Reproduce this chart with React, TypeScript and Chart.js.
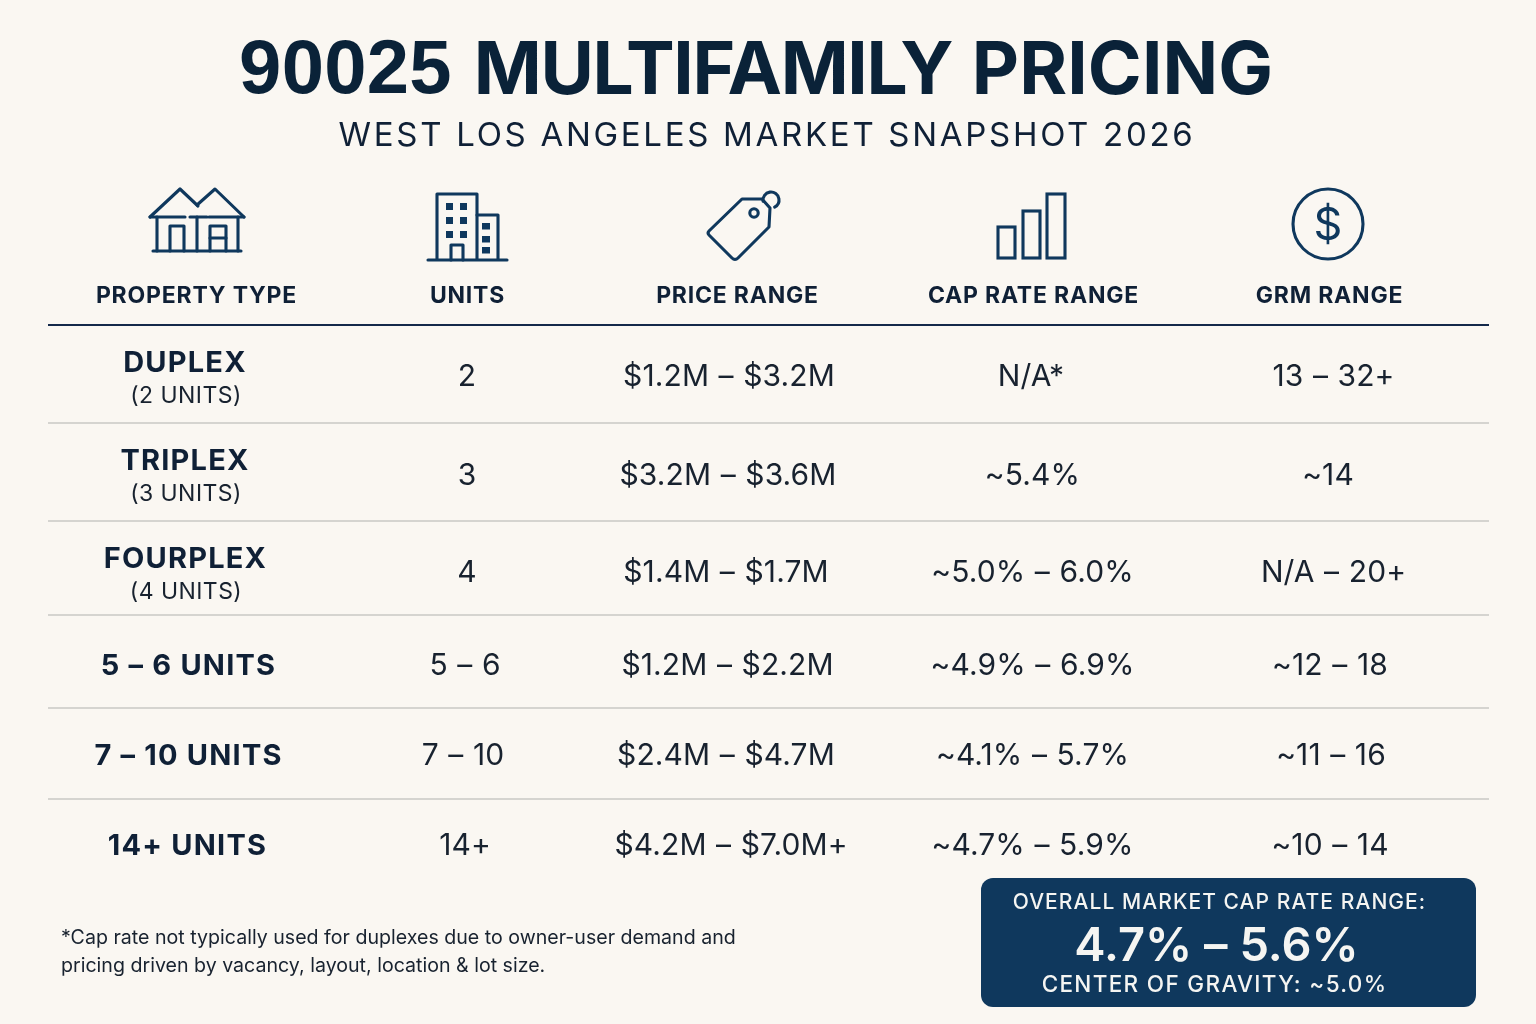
import React, { useEffect, useRef } from 'react'
import { Chart, registerables } from 'chart.js'

Chart.register(...registerables)

const titleWords = ['90025', 'MULTIFAMILY', 'PRICING']
const subtitle = 'WEST LOS ANGELES MARKET SNAPSHOT 2026'
const headers = ['PROPERTY TYPE', 'UNITS', 'PRICE RANGE', 'CAP RATE RANGE', 'GRM RANGE']
const categories = ['DUPLEX', 'TRIPLEX', 'FOURPLEX', '5 – 6 UNITS', '7 – 10 UNITS', '14+ UNITS']
const categoryNotes = ['(2 UNITS)', '(3 UNITS)', '(4 UNITS)']
const units = ['2', '3', '4', '5 – 6', '7 – 10', '14+']
const priceRanges = ['$1.2M – $3.2M', '$3.2M – $3.6M', '$1.4M – $1.7M', '$1.2M – $2.2M', '$2.4M – $4.7M', '$4.2M – $7.0M+']
const capRateRanges = ['N/A*', '~5.4%', '~5.0% – 6.0%', '~4.9% – 6.9%', '~4.1% – 5.7%', '~4.7% – 5.9%']
const grmRanges = ['13 – 32+', '~14', 'N/A – 20+', '~12 – 18', '~11 – 16', '~10 – 14']
const footnotes = [
    '*Cap rate not typically used for duplexes due to owner-user demand and',
    'pricing driven by vacancy, layout, location & lot size.',
]
const calloutTop = 'OVERALL MARKET CAP RATE RANGE:'
const calloutRange = '4.7% – 5.6%'
const calloutBottom = 'CENTER OF GRAVITY: ~5.0%'

// layout, in page pixels (the scales run 0-1536 / 0-1024)
const rowY = [375, 474, 571, 664, 754, 844]
const nameY = [361, 459, 557, 664, 754, 844]
const noteY = [394, 492, 590]
const nameX = [185, 185, 185.5, 188.5, 188.5, 187.5]
const noteX = [186, 186, 186]
const unitX = [467, 467, 467, 465, 463, 465]
const priceX = [729, 728, 726, 727.5, 726, 731]
const capX = [1031, 1032.5, 1032.5, 1032.5, 1032.5, 1032.5]
const grmX = [1333.5, 1328, 1333.5, 1330, 1331, 1330]
const headerX = [196.5, 467.5, 737.5, 1033.5, 1329.5]
const iconX = [197, 467, 743, 1031, 1328]
const ruleY = [423, 521, 615, 708, 799]

const NAVY = '#0f385d'
const INK = '#0f2036'
const BODY = '#18222f'
const PALE = '#f5f5f2'
const FONT = 'Inter, "Noto Sans", sans-serif'
const DIGIT_FONT = '"Liberation Sans", sans-serif'

const textSet = (labels: string[], xs: number[], ys: number[], weight: number, size: number, spacing: number, color: string, align = 'center', wordGap = 0, family = FONT) => ({
    data: labels.map((_, i) => ({ x: xs[i], y: ys[i] })),
    labels,
    textStyle: { weight, size, spacing, color, align, wordGap, family },
    pointRadius: 0,
    showLine: false,
})

const ruleSet = (y: number, color: string, width: number) => ({
    data: [{ x: 48, y }, { x: 1489, y }],
    showLine: true,
    borderColor: color,
    borderWidth: width,
    pointRadius: 0,
})

const drawIcon = (ctx: CanvasRenderingContext2D, index: number) => {
    const path = (pts: number[][]) => {
        ctx.beginPath()
        pts.forEach(([px, py], i) => (i ? ctx.lineTo(px, py) : ctx.moveTo(px, py)))
        ctx.stroke()
    }
    ctx.strokeStyle = NAVY
    ctx.fillStyle = NAVY
    ctx.lineWidth = 3.1
    ctx.lineJoin = 'round'
    ctx.lineCap = 'round'
    if (index === 0) {
        path([[-47, -8], [-17, -36], [1, -19]])
        path([[0, -20], [18, -36], [47, -8]])
        path([[-47, -8], [-12, -8]])
        path([[-7, -8], [10, -8]])
        path([[12, -8], [47, -8]])
        path([[-40, -8], [-40, 26]])
        path([[0, -8], [0, 26]])
        path([[41, -8], [41, 26]])
        path([[-44, 26], [44, 26]])
        path([[-27, 26], [-27, 1], [-13, 1], [-13, 26]])
        path([[13, 26], [13, 1], [29, 1], [29, 26]])
        path([[13, 13], [29, 13]])
    } else if (index === 1) {
        path([[-30, 34], [-30, -31], [10, -31], [10, 34]])
        path([[10, -10], [31, -10], [31, 34]])
        path([[-39, 35], [40, 35]])
        path([[-16, 35], [-16, 20], [-4, 20], [-4, 35]])
        ;[-22, -8].forEach(wx => [-22, -8, 6].forEach(wy => ctx.fillRect(wx + 1, wy, 7, 7)))
        ;[-2, 11, 22].forEach(wy => ctx.fillRect(15, wy, 8, 6.5))
    } else if (index === 2) {
        ctx.beginPath()
        ctx.moveTo(-1, -26)
        ctx.lineTo(19, -26)
        ctx.lineTo(27, -17)
        ctx.lineTo(26, 2)
        ctx.lineTo(-5, 33)
        ctx.quadraticCurveTo(-8, 36, -11, 33)
        ctx.lineTo(-34, 10)
        ctx.quadraticCurveTo(-36, 8, -34, 6)
        ctx.closePath()
        ctx.stroke()
        ctx.beginPath()
        ctx.arc(11, -12, 4.2, 0, Math.PI * 2)
        ctx.stroke()
        ctx.beginPath()
        ctx.arc(28, -25, 8, Math.PI * 0.95, Math.PI * 2.35)
        ctx.stroke()
    } else if (index === 3) {
        ctx.lineJoin = 'miter'
        ctx.strokeRect(-33, 2, 17, 31)
        ctx.strokeRect(-8, -14, 17, 47)
        ctx.strokeRect(16, -31, 18, 64)
    } else {
        ctx.beginPath()
        ctx.arc(0, -1, 35, 0, Math.PI * 2)
        ctx.stroke()
        ctx.font = `400 45px ${FONT}`
        ctx.textAlign = 'center'
        ctx.textBaseline = 'middle'
        ctx.fillText('$', 0, 1)
    }
}

const tablePlugin = {
    id: 'tableText',
    beforeDraw(chart: any) {
        const { ctx, width, height, scales } = chart
        ctx.save()
        ctx.fillStyle = '#faf7f2'
        ctx.fillRect(0, 0, width, height)
        // callout panel behind the market summary
        const left = scales.x.getPixelForValue(981)
        const right = scales.x.getPixelForValue(1476)
        const top = scales.y.getPixelForValue(878)
        const bottom = scales.y.getPixelForValue(1007)
        ctx.fillStyle = NAVY
        ctx.beginPath()
        ctx.roundRect(left, top, right - left, bottom - top, 12)
        ctx.fill()
        ctx.restore()
    },
    afterDatasetsDraw(chart: any) {
        const { ctx } = chart
        chart.data.datasets.forEach((set: any, d: number) => {
            const points = chart.getDatasetMeta(d).data
            if (set.icons) {
                points.forEach((pt: any, i: number) => {
                    ctx.save()
                    ctx.translate(pt.x, pt.y)
                    drawIcon(ctx, i)
                    ctx.restore()
                })
            }
            if (!set.textStyle) return
            const { weight, size, spacing, color, align, wordGap, family } = set.textStyle
            points.forEach((pt: any, i: number) => {
                ctx.save()
                ctx.font = `${weight} ${size}px ${family}`
                ctx.letterSpacing = `${spacing}px`
                ctx.wordSpacing = `${wordGap}px`
                ctx.fillStyle = color
                ctx.textAlign = align
                ctx.textBaseline = 'middle'
                // middle sits a little above the capitals' centre in Inter
                ctx.fillText(set.labels[i], pt.x, pt.y + size * 0.075)
                ctx.restore()
            })
        })
    },
}

export default function App() {
    const canvasReference = useRef<HTMLCanvasElement>(null)

    useEffect(() => {
        const myChart = new Chart(canvasReference.current as HTMLCanvasElement, {
            type: 'scatter',
            data: {
                datasets: [
                    ruleSet(325, '#14294a', 2.2),
                    ...ruleY.map(y => ruleSet(y, '#c9c9c5', 1.5)),
                    { data: iconX.map(x => ({ x, y: 225 })), icons: true, pointRadius: 0 },
                    // the words are tracked differently in the picture, so each gets its own spacing
                    textSet([titleWords[0]], [345.5], [66], 700, 76, 0.3, '#0a2238', 'center', 0, DIGIT_FONT),
                    textSet([titleWords[1]], [713], [67], 700, 73, -1.3, '#0a2238'),
                    textSet([titleWords[2]], [1122.5], [67], 700, 73, 0.1, '#0a2238'),
                    textSet([subtitle], [767], [134], 400, 33, 2.7, INK),
                    textSet(headers, headerX, headers.map(() => 294), 700, 23, 0.8, INK),
                    textSet(categories, nameX, nameY, 700, 29, 1.2, INK),
                    textSet(categoryNotes, noteX, noteY, 400, 23, 0.45, BODY),
                    textSet(units, unitX, rowY, 400, 30, 0.1, BODY, 'center', 1),
                    textSet(priceRanges, priceX, rowY, 400, 30, 0.1, BODY, 'center', 1),
                    textSet(capRateRanges, capX, rowY, 400, 30, 0.1, BODY, 'center', 1),
                    textSet(grmRanges, grmX, rowY, 400, 30, 0.1, BODY, 'center', 1),
                    textSet(footnotes, [61, 61], [937, 965], 400, 19.6, 0, BODY, 'left'),
                    textSet([calloutTop], [1219.5], [901], 500, 21, 1.07, PALE),
                    textSet([calloutRange], [1216.5], [943], 600, 47, 0, PALE),
                    textSet([calloutBottom], [1214.5], [984], 500, 22.5, 1.33, PALE),
                ] as any,
            },
            options: {
                responsive: false,
                animation: false,
                events: [],
                layout: { padding: 0 },
                plugins: { legend: { display: false }, tooltip: { enabled: false } },
                scales: {
                    x: { type: 'linear', min: 0, max: 1536, display: false },
                    y: { type: 'linear', min: 0, max: 1024, reverse: true, display: false },
                },
            },
            plugins: [tablePlugin],
        })

        return () => {
            myChart.destroy()
        }
    }, [])

    return (
        <div style={{ position: 'fixed', left: 0, top: 0, width: 1536, height: 1024, background: '#faf7f2' }}>
            <canvas ref={canvasReference} width={1536} height={1024} style={{ display: 'block' }}></canvas>
        </div>
    )
}
